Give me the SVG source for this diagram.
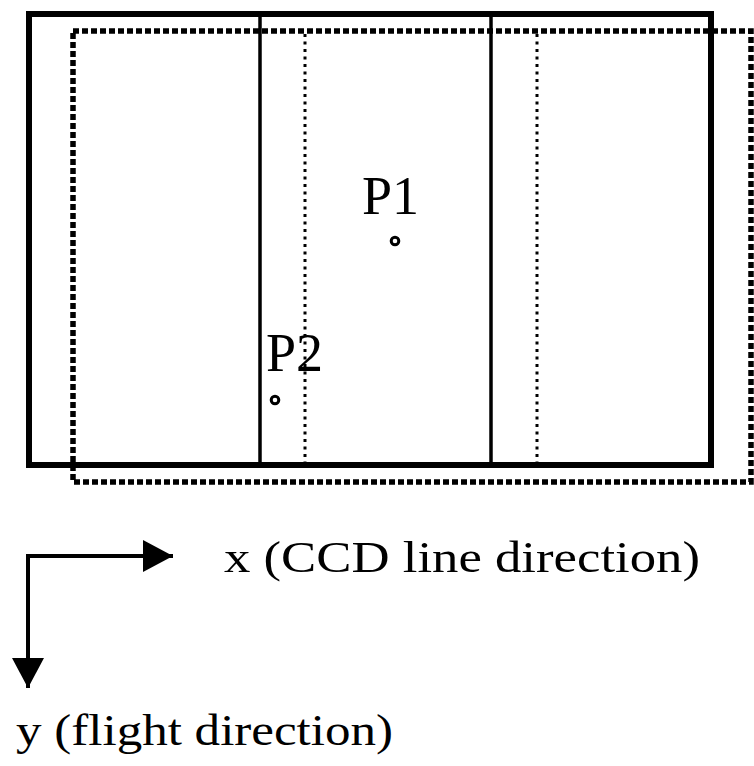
<svg xmlns="http://www.w3.org/2000/svg" width="754" height="766" viewBox="0 0 754 766">
<style>
.frame{fill:none;stroke:#000;stroke-width:6}
.dotframe{fill:none;stroke:#000;stroke-width:5.5;stroke-dasharray:6 3}
.sline{stroke:#000;stroke-width:3.5}
.dline{stroke:#000;stroke-width:3;stroke-dasharray:3 4.5}
.pt{fill:none;stroke:#000;stroke-width:3}
.lbl{font-family:'Liberation Serif',serif;fill:#000}
.axis{stroke:#000;stroke-width:4;fill:none}
</style>
<defs>
<marker id="ah" markerUnits="userSpaceOnUse" markerWidth="32" markerHeight="34" refX="30" refY="16" orient="auto">
<path d="M0,0 L30,16 L0,32 Z" fill="#000"/>
</marker>
</defs>
<rect width="754" height="766" fill="#fff"/>
<g id="dotted-frame">
<rect class="dotframe" x="73" y="31" width="678" height="451"/>
</g>
<g id="solid-frame">
<rect class="frame" x="29" y="14" width="682" height="451"/>
</g>
<g id="strips">
<line class="sline" x1="260" y1="14" x2="260" y2="465"/>
<line class="sline" x1="491" y1="14" x2="491" y2="465"/>
<line class="dline" x1="305" y1="34" x2="305" y2="463"/>
<line class="dline" x1="537" y1="34" x2="537" y2="463"/>
</g>
<g id="P1">
<circle class="pt" cx="395" cy="241" r="3.8"/>
<text class="lbl" x="362" y="214" font-size="54">P1</text>
</g>
<g id="P2">
<circle class="pt" cx="275" cy="400" r="3.8"/>
<text class="lbl" x="266" y="371" font-size="54">P2</text>
</g>
<g id="connectors">
<polyline class="axis" points="28,556 173,556" marker-end="url(#ah)"/>
<polyline class="axis" points="28,554 28,688" marker-end="url(#ah)"/>
</g>
<g id="labels">
<text class="lbl" x="224" y="572" font-size="44" textLength="476" lengthAdjust="spacingAndGlyphs">x (CCD line direction)</text>
<text class="lbl" x="16" y="745" font-size="44" textLength="377" lengthAdjust="spacingAndGlyphs">y (flight direction)</text>
</g>
</svg>
